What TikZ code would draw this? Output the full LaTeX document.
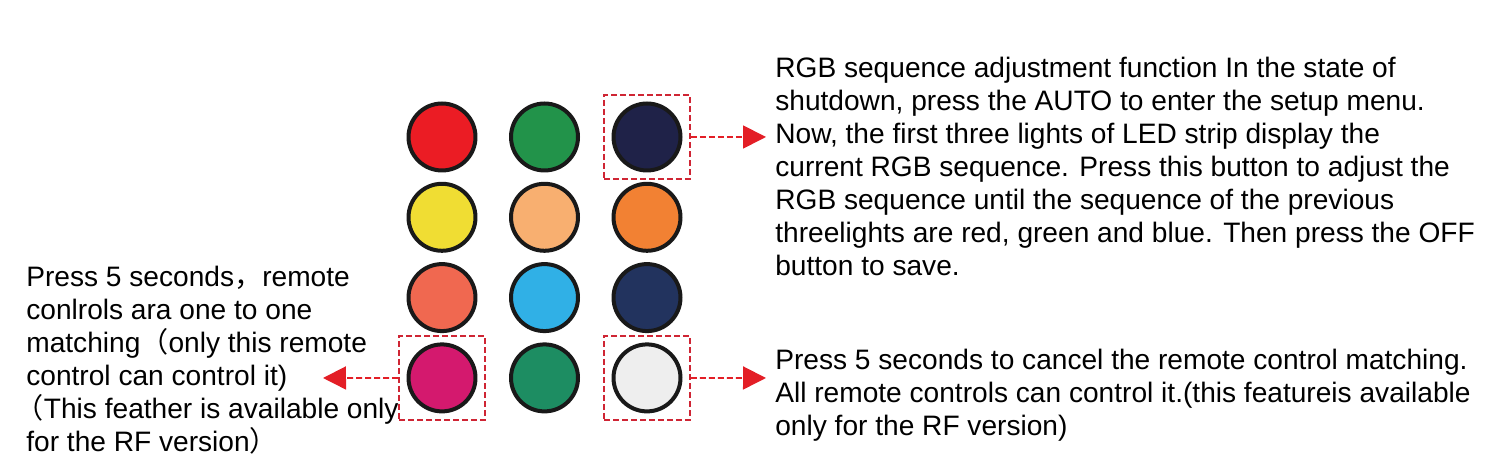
\documentclass[tikz,border=0pt]{standalone}
\usepackage{fontspec}
\setmainfont{Liberation Sans}
\newfontfamily\cjk{Noto Sans CJK SC}
\usetikzlibrary{arrows.meta}

\definecolor{cRed}{HTML}{EB1C24}
\definecolor{cGreen}{HTML}{22934A}
\definecolor{cNavy}{HTML}{1F2248}
\definecolor{cYellow}{HTML}{F0DD33}
\definecolor{cPeach}{HTML}{F8AF70}
\definecolor{cOrange}{HTML}{F28133}
\definecolor{cSalmon}{HTML}{F06850}
\definecolor{cCyan}{HTML}{30B0E6}
\definecolor{cBlue}{HTML}{22335E}
\definecolor{cMagenta}{HTML}{D4196E}
\definecolor{cTeal}{HTML}{1D8D62}
\definecolor{cWhite}{HTML}{EEEEEE}
\definecolor{cDash}{HTML}{CF2534}
\definecolor{cArrow}{HTML}{E31E26}

\begin{document}
\begin{tikzpicture}[x=0.02cm, y=-0.02cm,
	every node/.style={font=\fontsize{16}{18.8}\selectfont},
	btn/.style={circle, draw=black!90, line width=0.08cm, minimum size=1.34cm, inner sep=0pt},
	selbox/.style={draw=cDash, line width=0.04cm, dash pattern=on 0.12cm off 0.06cm, minimum width=1.72cm, minimum height=1.68cm, inner sep=0pt},
	link/.style={draw=cArrow, line width=0.035cm, dash pattern=on 0.12cm off 0.06cm, -{Triangle[length=0.46cm, width=0.46cm, fill=cArrow, sep=0pt]}},
	note/.style={align=left, inner sep=0pt, anchor=base west}]
	\useasboundingbox (0,0) rectangle (1512,475);
	% buttons, row by row
	\foreach \col/\r/\c in {cRed/1/1, cGreen/1/2, cNavy/1/3, cYellow/2/1, cPeach/2/2, cOrange/2/3, cSalmon/3/1, cCyan/3/2, cBlue/3/3, cMagenta/4/1, cTeal/4/2, cWhite/4/3}
		\node[btn, fill=\col] (b\r\c) at ({442+(\c-1)*102.5}, {137+(\r-1)*80.3}) {};
	% marked buttons
	\node[selbox] (s13) at (b13) {};
	\node[selbox] (s41) at (b41) {};
	\node[selbox] (s43) at (b43) {};
	% notes (placed at the baseline of their last line)
	\node[note] (t1) at (775,276) {RGB sequence adjustment function In the state of\\shutdown, press the AUTO to enter the setup menu.\\Now, the first three lights of LED strip display the\\current RGB sequence. Press this button to adjust the\\RGB sequence until the sequence of the previous\\threelights are red, green and blue. Then press the OFF\\button to save.};
	\node[note] (t2) at (775,436) {Press 5 seconds to cancel the remote control matching.\\All remote controls can control it.(this featureis available\\only for the RF version)};
	\node[note] (t3) at (26,452) {Press 5 seconds{\cjk ，}remote\\conlrols ara one to one\\matching{\cjk （}only this remote\\control can control it)\\\hspace*{-6pt}{\cjk （}This feather is available only\\for the RF version{\cjk ）}};
	\coordinate (e1) at (766,137);
	\coordinate (e2) at (766,378);
	\coordinate (e3) at (323,378);
	\draw[link] (s13.east) -- (e1);
	\draw[link] (s43.east) -- (e2);
	\draw[link] (s41.west) -- (e3);
\end{tikzpicture}
\end{document}
